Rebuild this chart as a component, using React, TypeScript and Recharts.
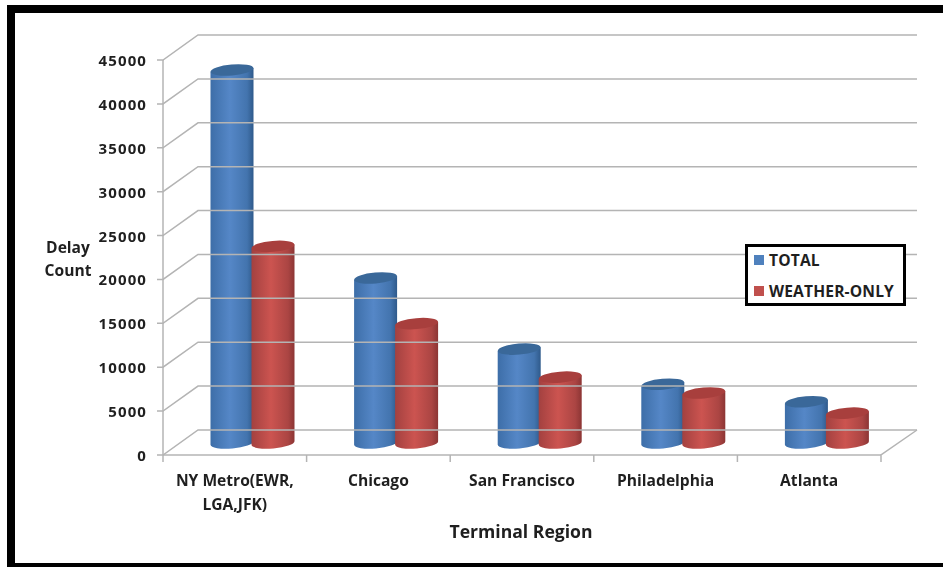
import * as React from "react";
import { Bar, BarChart, Legend, XAxis, YAxis } from "recharts";

const regions = ["NY Metro(EWR,\nLGA,JFK)", "Chicago", "San Francisco", "Philadelphia", "Atlanta"];
const totalDelays = [42500, 18800, 10700, 6700, 4700];
const weatherDelays = [22400, 13600, 7500, 5700, 3400];
const yTicks = [0, 5000, 10000, 15000, 20000, 25000, 30000, 35000, 40000, 45000];

const data = regions.map((region, i) => ({
  region,
  total: totalDelays[i],
  weather: weatherDelays[i],
}));

const FONT = '"Open Sans", sans-serif';
const INK = "#1f1f1f";
const GRID = "#b4b4b4";

// front-left corner of the plot, and how far the back wall sits from it
const PLOT_LEFT = 163;
const PLOT_RIGHT = 881;
const DEPTH_X = 35;
const DEPTH_Y = 25;
const BAND = (PLOT_RIGHT - PLOT_LEFT) / regions.length;

function GridTick({ y, payload }: any) {
  return (
    <g>
      <path
        d={`M${PLOT_LEFT - 6} ${y}H${PLOT_LEFT}l${DEPTH_X} ${-DEPTH_Y}H${PLOT_RIGHT + 36}`}
        fill="none"
        stroke={GRID}
        strokeWidth={1.5}
      />
      <text x={147} y={y} textAnchor="end" dominantBaseline="central" fontFamily={FONT} fontSize={15} fontWeight={700} letterSpacing={1.1} fill={INK}>
        {payload.value}
      </text>
    </g>
  );
}

function RegionTick({ x, y, payload, index }: any) {
  const lines = String(payload.value).split("\n");
  const isLast = index === regions.length - 1;
  const axisY = y - 6;
  return (
    <g>
      <path d={`M${x - BAND / 2} ${axisY}v7`} stroke={GRID} strokeWidth={1.5} />
      {isLast && (
        <path d={`M${x + BAND / 2} ${axisY + 7}V${axisY}l36 ${-DEPTH_Y}`} fill="none" stroke={GRID} strokeWidth={1.5} />
      )}
      {lines.map((line, i) => (
        <text key={line} x={x} y={axisY + 25 + i * 24} textAnchor="middle" dominantBaseline="central" fontFamily={FONT} fontSize={15.6} fontWeight={700} fill={INK}>
          {line}
        </text>
      ))}
    </g>
  );
}

// Cylinder standing mid-depth in the floor, tilted slightly like the Excel 3-D view
function cylinder(gradientId: string, topFill: string) {
  return function Cylinder({ x, y, width, height }: any) {
    const rx = width / 2;
    const ry = 5.5;
    const tilt = -5;
    const dy = rx * Math.sin((-tilt * Math.PI) / 180);
    const left = x + 17.5;
    const right = left + width;
    const top = y - 12;
    const bottom = y + height - 12;
    const body = `M${left} ${top + dy}L${left} ${bottom + dy}A${rx} ${ry} ${tilt} 0 0 ${right} ${bottom - dy}L${right} ${top - dy}Z`;
    return (
      <g>
        <path d={body} fill={`url(#${gradientId})`} />
        <ellipse cx={left + rx} cy={top} rx={rx} ry={ry} fill={topFill} transform={`rotate(${tilt} ${left + rx} ${top})`} />
      </g>
    );
  };
}

function LegendBox() {
  const rows = [
    { label: "TOTAL", color: "#4f81bd" },
    { label: "WEATHER-ONLY", color: "#c0504d" },
  ];
  return (
    <div style={{ width: 155, height: 56, border: "3px solid #000", background: "#fff", fontFamily: FONT, fontSize: 15.6, fontWeight: 700, color: INK, whiteSpace: "nowrap", letterSpacing: 0.15 }}>
      {rows.map((row, i) => (
        <div key={row.label} style={{ height: 31, marginTop: i === 0 ? -3 : -1, marginBottom: 1, display: "flex", alignItems: "center", paddingLeft: 6 }}>
          <span style={{ width: 10, height: 10, background: row.color, marginRight: 5, flex: "none" }} />
          {row.label}
        </div>
      ))}
    </div>
  );
}

function YTitle() {
  return (
    <g fontFamily={FONT} fontSize={15.6} fontWeight={700} fill={INK} textAnchor="middle">
      <text x={68} y={253}>Delay</text>
      <text x={68} y={276}>Count</text>
    </g>
  );
}

function XTitle() {
  return (
    <text x={521} y={538} fontFamily={FONT} fontSize={17.6} fontWeight={700} fill={INK} textAnchor="middle">
      Terminal Region
    </text>
  );
}

export default function App() {
  return (
    <div style={{ position: "absolute", left: 0, top: 0, width: 943, height: 567, overflow: "hidden", background: "#fff" }}>
      <div style={{ position: "absolute", left: 7, top: 5, width: 936, height: 562, boxSizing: "border-box", borderLeft: "8px solid #000", borderTop: "8px solid #000", borderBottom: "4px solid #000" }} />
      <div style={{ position: "absolute", left: 0, top: 0, filter: "blur(0.4px)" }}>
        <BarChart
          width={943}
          height={567}
          data={data}
          margin={{ top: 60, right: 62, bottom: 0, left: 103 }}
          barSize={43}
          barGap={-2}
        >
          <defs>
            <linearGradient id="cyl-blue" x1="0" y1="0" x2="1" y2="0">
              <stop offset="0%" stopColor="#3d6ea8" />
              <stop offset="45%" stopColor="#5587c7" />
              <stop offset="85%" stopColor="#4374ae" />
              <stop offset="100%" stopColor="#2f5a8b" />
            </linearGradient>
            <linearGradient id="cyl-red" x1="0" y1="0" x2="1" y2="0">
              <stop offset="0%" stopColor="#a34140" />
              <stop offset="45%" stopColor="#cc5450" />
              <stop offset="85%" stopColor="#ab4543" />
              <stop offset="100%" stopColor="#8c3534" />
            </linearGradient>
          </defs>
          <YAxis
            width={60}
            domain={[0, 45000]}
            ticks={yTicks}
            interval={0}
            axisLine={{ stroke: GRID, strokeWidth: 1.5 }}
            tickLine={false}
            tick={<GridTick />}
            label={<YTitle />}
          />
          <XAxis
            dataKey="region"
            height={112}
            interval={0}
            axisLine={{ stroke: GRID, strokeWidth: 1.5 }}
            tickLine={false}
            tickMargin={0}
            tick={<RegionTick />}
            label={<XTitle />}
          />
          <Bar dataKey="total" name="TOTAL" fill="#4f81bd" shape={cylinder("cyl-blue", "#3a6899")} isAnimationActive={false} />
          <Bar dataKey="weather" name="WEATHER-ONLY" fill="#c0504d" shape={cylinder("cyl-red", "#a83f3d")} isAnimationActive={false} />
          <Legend content={<LegendBox />} wrapperStyle={{ position: "absolute", left: 745, top: 244, width: 0, height: 0 }} />
        </BarChart>
      </div>
    </div>
  );
}
